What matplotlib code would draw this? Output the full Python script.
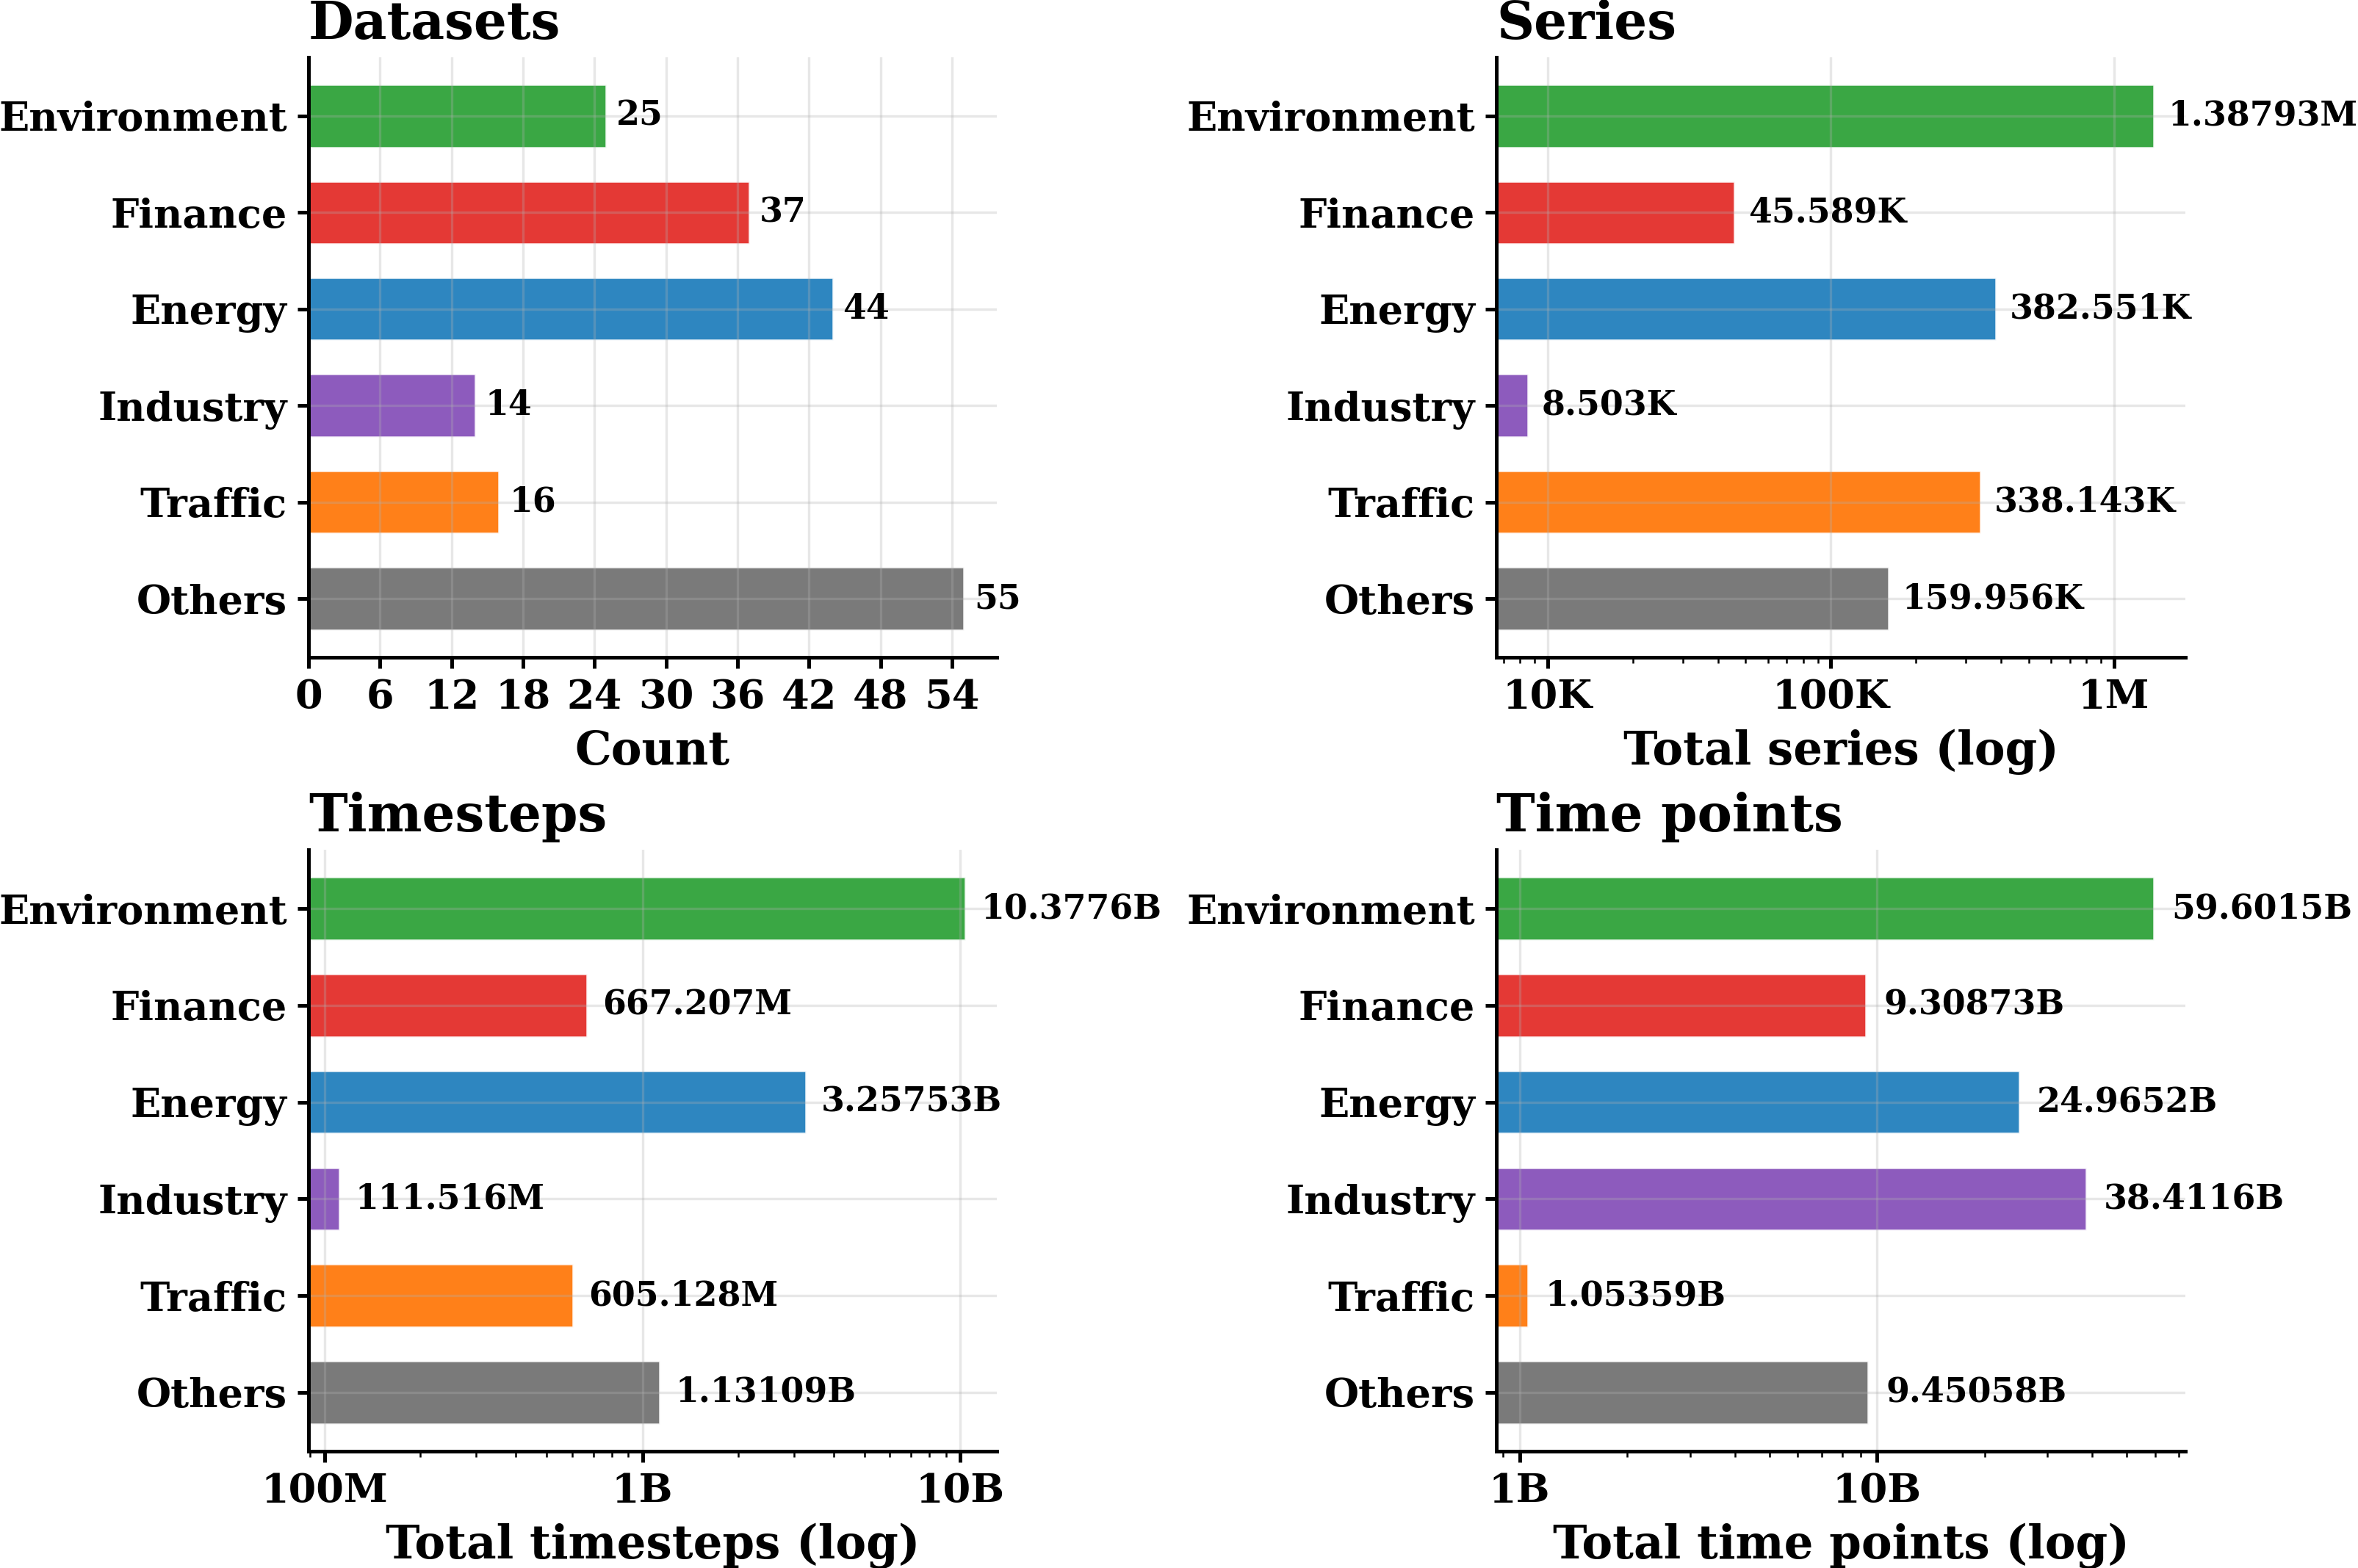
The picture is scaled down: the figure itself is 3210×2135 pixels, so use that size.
import matplotlib
matplotlib.use("Agg")
import matplotlib.pyplot as plt
from matplotlib.ticker import FuncFormatter
import numpy as np

categories = ["Environment", "Finance", "Energy", "Industry", "Traffic", "Others"]
datasets = [25, 37, 44, 14, 16, 55]
series = [1387930, 45589, 382551, 8503, 338143, 159956]
timesteps = [10377600000, 667207000, 3257530000, 111516000, 605128000, 1131090000]
time_points = [59601500000, 9308730000, 24965200000, 38411600000, 1053590000, 9450580000]
colors = ["#249E30", "#E2231F", "#1779BA", "#8149B6", "#FF7200", "#6C6C6C"]

plt.rcParams["font.family"] = "DejaVu Serif"
plt.rcParams["font.weight"] = "bold"
plt.rcParams["axes.titleweight"] = "bold"
plt.rcParams["axes.labelweight"] = "bold"

fig = plt.figure(figsize=(10.7, 2135 / 300), dpi=300)
pos = [
    [0.1308, 0.5808, 0.4227 - 0.1308, 0.9635 - 0.5808],
    [0.6346, 0.5808, 0.9268 - 0.6346, 0.9635 - 0.5808],
    [0.1308, 0.0745, 0.4227 - 0.1308, 0.4581 - 0.0745],
    [0.6346, 0.0745, 0.9268 - 0.6346, 0.4581 - 0.0745],
]

def human(v):
    for div, suf in ((1e9, "B"), (1e6, "M"), (1e3, "K")):
        if v >= div:
            return f"{v / div:.6g}{suf}"
    return f"{v:g}"

def logfmt(v, p):
    for div, suf in ((1e9, "B"), (1e6, "M"), (1e3, "K")):
        if v >= div:
            return f"{v / div:g}{suf}"
    return f"{v:g}"

panels = [
    ("Datasets", datasets, "Count", False),
    ("Series", series, "Total series (log)", True),
    ("Timesteps", timesteps, "Total timesteps (log)", True),
    ("Time points", time_points, "Total time points (log)", True),
]

y = np.arange(len(categories))
for p, (title, vals, xlabel, islog) in zip(pos, panels):
    ax = fig.add_axes(p)
    if islog:
        ax.set_xscale("log")
    ax.barh(y, vals, height=0.65, color=colors, alpha=0.9, edgecolor="white", linewidth=0.6)
    ax.set_yticks(y)
    ax.set_yticklabels(categories)
    ax.invert_yaxis()
    ax.grid(True, alpha=0.3)
    for s in ("top", "right"):
        ax.spines[s].set_visible(False)
    for s in ("left", "bottom"):
        ax.spines[s].set_linewidth(1.2)
    ax.tick_params(axis="both", labelsize=13, width=1.2)
    ax.set_title(title, loc="left", fontsize=17, fontweight="bold")
    ax.set_xlabel(xlabel, fontsize=15, fontweight="bold")
    if islog:
        ax.xaxis.set_major_formatter(FuncFormatter(logfmt))
        for v, yy in zip(vals, y):
            ax.text(v * 1.12, yy, human(v), va="center", ha="left", fontsize=11, fontweight="bold")
    else:
        ax.set_xticks(np.arange(0, 55, 6))
        for v, yy in zip(vals, y):
            ax.text(v + 0.85, yy, str(v), va="center", ha="left", fontsize=11, fontweight="bold")

fig.savefig("out.png", dpi=300)
